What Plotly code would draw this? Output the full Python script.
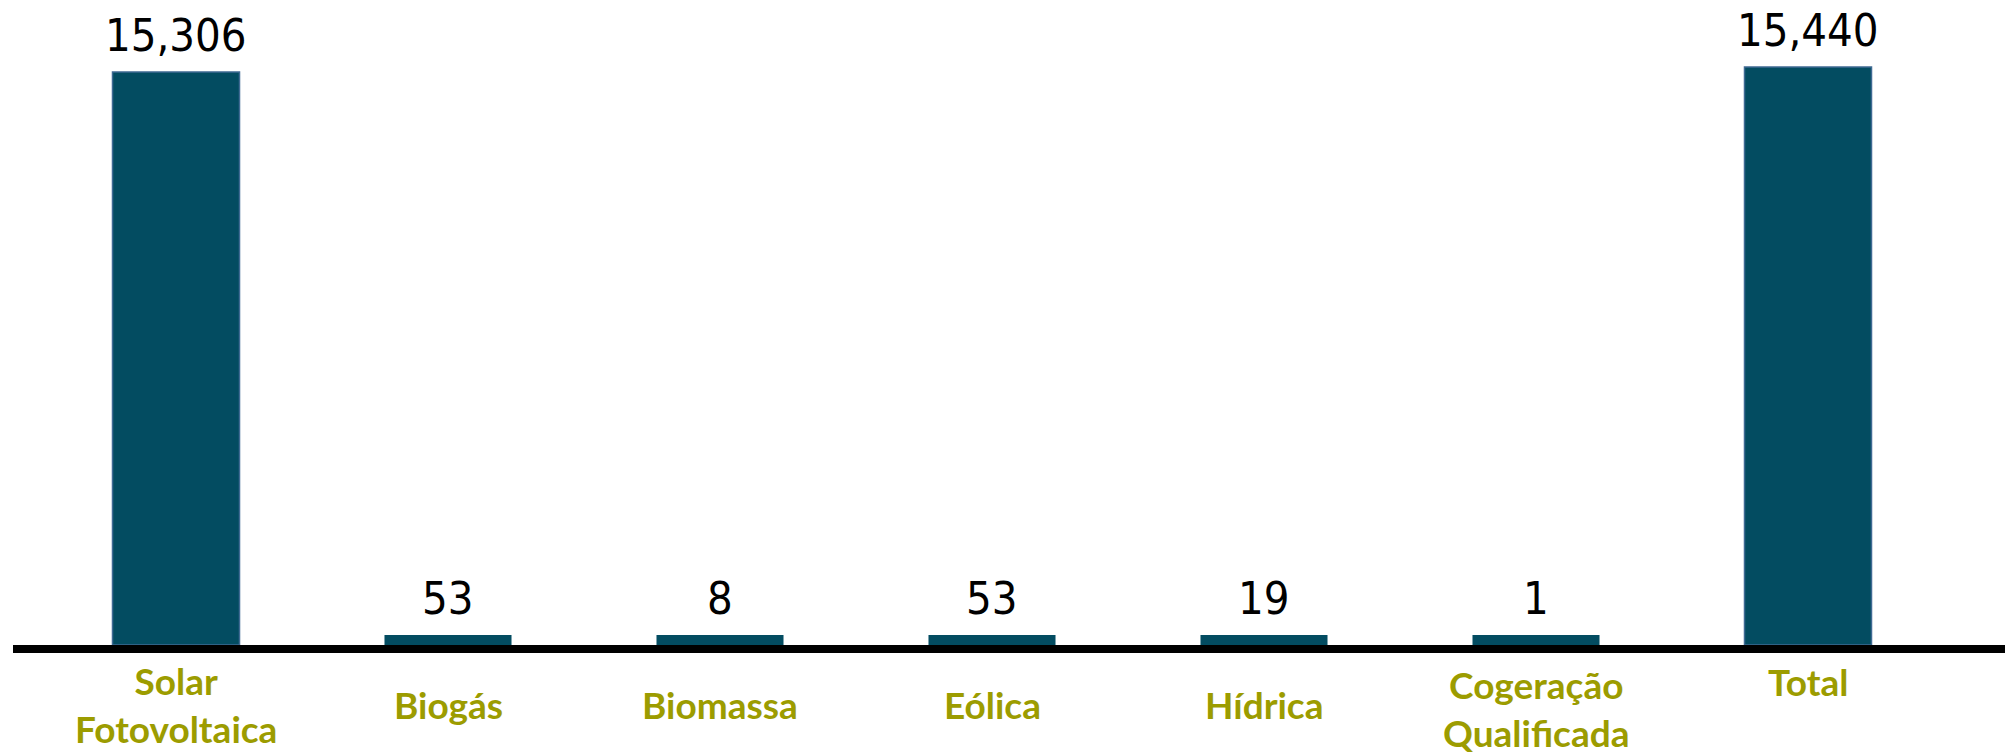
import plotly.graph_objects as go

categories = ["Solar<br>Fotovoltaica", "Biogás", "Biomassa", "Eólica", "Hídrica",
              "Cogeração<br>Qualificada", "Total"]
values = [15306, 53, 8, 53, 19, 1, 15440]
value_labels = ["15,306", "53", "8", "53", "19", "1", "15,440"]

W, H = 2005, 754
ML, MR, MT, MB = 40, 61, 10, 109
plot_h = H - MT - MB
plot_w = W - ML - MR
ymax = 16962
ppu = plot_h / ymax
cat_px = plot_w / len(categories)

FILL = "#034c61"
EDGE = "#3f6a93"
LABEL_C = "#9c9c00"
MIN_PX = 10
BAR_W = 0.467

line_w, line_c, bar_w, vis_extra = [], [], [], []
for v in values:
    h = v * ppu
    if h < MIN_PX:
        lw = 2 * (MIN_PX - h)
        line_w.append(lw)
        line_c.append(FILL)
        bar_w.append(BAR_W - lw / cat_px)
        vis_extra.append(MIN_PX - h)
    else:
        line_w.append(1.5)
        line_c.append(EDGE)
        bar_w.append(BAR_W)
        vis_extra.append(0)

fig = go.Figure(go.Bar(
    x=list(range(len(categories))), y=values, width=bar_w,
    marker=dict(color=FILL, line=dict(color=line_c, width=line_w)),
    hoverinfo="skip",
))

for i, (v, t) in enumerate(zip(values, value_labels)):
    fig.add_annotation(x=i, y=v, xref="x", yref="y", text=t, showarrow=False,
                       yanchor="bottom", yshift=8 + vis_extra[i],
                       font=dict(family="DejaVu Sans Condensed", size=45, color="#000000"))

# vertical centre (px from top) of each category label
label_py = [704, 704, 704, 704, 704, 708, 681]
for i, c in enumerate(categories):
    fig.add_annotation(x=i, y=(H - MB - label_py[i]) / plot_h, xref="x", yref="paper",
                       text="<b>" + c + "</b>", showarrow=False, yanchor="middle",
                       font=dict(family="Lato", size=37, color=LABEL_C))

fig.add_shape(type="line", xref="paper", yref="paper",
              x0=(13 - ML) / plot_w, x1=(W - ML) / plot_w,
              y0=-4 / plot_h, y1=-4 / plot_h,
              line=dict(color="#000000", width=8), layer="above")

fig.update_layout(
    width=W, height=H, margin=dict(l=ML, r=MR, t=MT, b=MB),
    paper_bgcolor="white", plot_bgcolor="white", showlegend=False,
    xaxis=dict(range=[-0.5, len(categories) - 0.5], showticklabels=False,
               showgrid=False, zeroline=False, showline=False, fixedrange=True),
    yaxis=dict(range=[0, ymax], visible=False, showgrid=False, zeroline=False,
               fixedrange=True),
)

fig.write_html("out.html", config={"displayModeBar": False, "staticPlot": True},
               post_script="document.body.style.margin='0';document.body.style.overflow='hidden';")
